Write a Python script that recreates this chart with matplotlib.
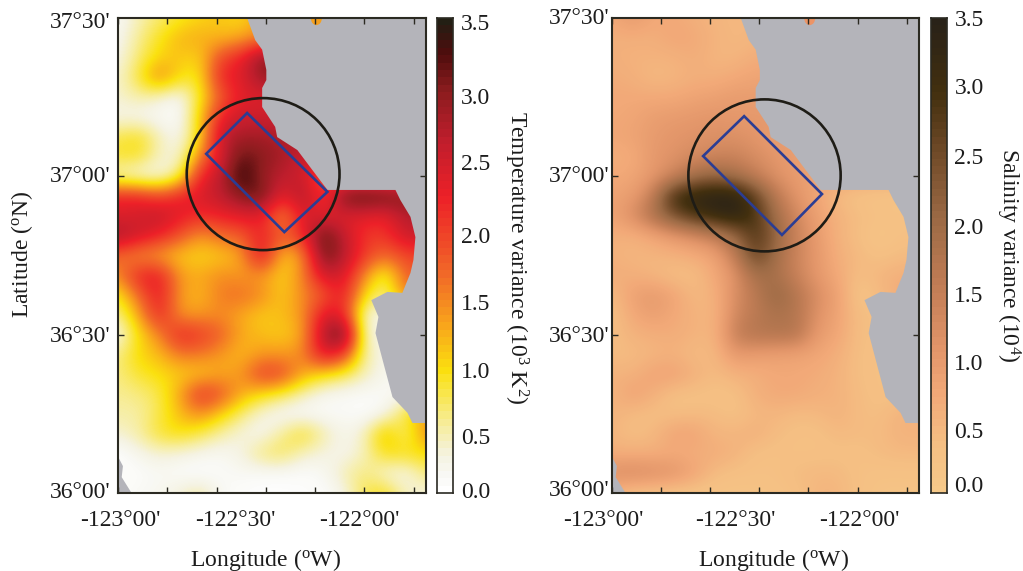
import numpy as np
import matplotlib.pyplot as plt
from matplotlib.colors import LinearSegmentedColormap
from matplotlib.patches import Ellipse, Polygon

plt.rcParams['font.family'] = ['Liberation Serif', 'DejaVu Serif']
plt.rcParams['mathtext.fontset'] = 'custom'
plt.rcParams['mathtext.rm'] = 'Liberation Serif'
plt.rcParams['mathtext.default'] = 'rm'

W, H = 1023, 571

# grid of the two fields, north to south, west to east
lat_grid = np.linspace(37.5, 36.0, 25)
lon_grid = np.linspace(-123.0, -121.75, 16)

temp_var = [
    [.10, .40, .60, .80, .95, 1.05, .90, 1.3, 1.3, 1.3, 1.3, 1.3, 1.3, 1.3, 1.3, 1.3],
    [.15, .50, .85, 1.15, 1.2, 1.1, 1.2, 1.4, 1.4, 1.4, 1.4, 1.4, 1.4, 1.4, 1.4, 1.4],
    [.20, .60, .95, 1.05, .95, 1.9, 2.2, 3.0, 3.0, 3.0, 3.0, 3.0, 3.0, 3.0, 3.0, 3.0],
    [.30, .75, 1.5, .90, .80, 2.2, 2.3, 2.9, 2.9, 2.9, 2.9, 2.9, 2.9, 2.9, 2.9, 2.9],
    [.30, .45, .30, .10, .80, 1.7, 2.3, 2.3, 2.3, 2.3, 2.3, 2.3, 2.3, 2.3, 2.3, 2.3],
    [.20, .15, .10, .05, 1.0, 2.2, 2.5, 2.5, 2.5, 2.5, 2.5, 2.5, 2.5, 2.5, 2.5, 2.5],
    [.70, .90, .40, .15, .90, 2.6, 2.8, 2.8, 2.7, 2.7, 2.7, 2.7, 2.7, 2.7, 2.7, 2.7],
    [.80, .85, .35, .25, 1.4, 2.4, 3.2, 3.0, 2.8, 2.5, 2.5, 2.5, 2.5, 2.5, 2.5, 2.5],
    [.30, .15, .15, .60, 2.2, 2.6, 3.5, 2.9, 2.6, 2.5, 1.7, 1.7, 1.7, 1.7, 1.7, 1.7],
    [2.2, 2.2, 1.9, 2.2, 2.4, 2.6, 3.0, 3.2, 2.2, 2.8, 1.9, 3.2, 3.3, 3.2, 3.0, 3.0],
    [2.3, 2.4, 2.6, 2.3, 2.1, 2.2, 2.3, 2.3, 1.3, 2.4, 2.3, 2.3, 2.3, 2.2, 2.7, 2.7],
    [2.8, 2.5, 2.2, 1.8, 1.3, 1.6, 1.7, 2.2, 1.7, 2.1, 3.3, 2.6, 2.0, 2.0, 2.5, 2.5],
    [1.6, 1.3, 1.2, 1.0, .95, 1.0, 1.2, 2.5, 1.0, 1.3, 3.2, 2.7, 2.0, 1.6, 1.9, 1.9],
    [1.4, 2.2, 2.3, 1.3, 1.2, 1.4, 1.3, 1.3, .95, 1.4, 2.5, 2.4, 1.4, .60, 1.7, 1.7],
    [.80, 1.6, 2.3, 1.3, 1.1, 1.5, 1.6, 1.4, 1.0, 1.4, 1.7, 2.3, .90, .50, 1.5, 1.5],
    [.50, 1.2, 2.2, 1.3, 1.3, 1.4, 1.2, 1.0, 1.1, 1.3, 2.4, 2.2, .25, .20, .20, .20],
    [.15, .90, 1.4, 2.2, 2.0, 1.7, 1.2, 1.1, 1.0, 1.2, 2.7, 3.4, .30, .20, .20, .20],
    [.55, .95, 1.1, 1.5, 1.5, 1.3, 1.1, 1.3, 1.3, 1.4, 2.4, 2.0, .45, .20, .20, .20],
    [.55, .80, .90, 1.0, 1.0, 1.2, 1.3, 2.0, 1.9, 1.2, .90, .70, .40, .15, .15, .15],
    [.50, .55, .70, 1.2, 2.1, 1.8, 1.2, .90, .70, .40, .15, .10, .08, .10, .10, .10],
    [.45, .45, .70, 1.1, 1.4, 1.0, .60, .25, .08, .05, .08, .10, .05, .15, .80, 1.3],
    [.30, .45, .80, .90, .70, .45, .25, .15, .50, .90, .45, .18, .35, 1.2, .50, 1.4],
    [.02, .18, .30, .25, .18, .12, .25, .60, .70, .35, .25, .18, .35, .90, .90, .90],
    [.05, .05, .12, .05, .02, .08, .12, .08, .08, .05, .12, .40, .60, .25, .15, .60],
    [.05, .12, .15, .30, .50, .12, .05, .02, .02, .05, .05, .20, .70, .90, .35, .25],
]

sal_var = [
    [.70, 1.0, .70, .70, .60, .50, .45, .50, .50, .50, .50, .50, .50, .50, .50, .50],
    [.60, .60, .60, .75, .70, .55, .45, .50, .50, .50, .50, .50, .50, .50, .50, .50],
    [.60, .55, .55, .55, .65, .50, .50, .65, .65, .65, .65, .65, .65, .65, .65, .65],
    [.65, .60, .45, .50, .60, .60, .70, .80, .80, .80, .80, .80, .80, .80, .80, .80],
    [.70, .70, .70, .70, .80, .85, .95, .90, .90, .90, .90, .90, .90, .90, .90, .90],
    [.70, .75, .90, .95, 1.0, 1.05, 1.0, 1.0, 1.0, 1.0, 1.0, 1.0, 1.0, 1.0, 1.0, 1.0],
    [.75, .80, .95, 1.05, 1.1, 1.15, 1.15, 1.05, .90, .90, .90, .90, .90, .90, .90, .90],
    [.60, .65, 1.0, 1.1, 1.25, 1.35, 1.4, 1.2, 1.05, .90, .80, .80, .80, .80, .80, .80],
    [.70, .75, 1.0, 1.35, 1.9, 2.1, 1.9, 1.5, 1.1, .95, .80, .80, .80, .80, .80, .80],
    [.80, .90, 1.5, 3.1, 3.4, 3.5, 3.5, 2.7, 1.6, 1.05, .75, .40, .25, .20, .20, .20],
    [.80, 1.2, 1.8, 2.4, 2.9, 3.2, 3.4, 2.9, 1.9, 1.3, .85, .55, .40, .30, .25, .25],
    [.60, .55, .75, 1.0, 1.2, 1.5, 2.0, 2.9, 2.1, 1.4, .95, .55, .35, .15, .30, .30],
    [.55, .50, .50, .55, .65, .80, 1.5, 2.7, 1.9, 1.35, 1.0, .60, .45, .30, .40, .40],
    [.65, .60, .50, .35, .35, .70, 1.1, 1.9, 1.85, 1.4, 1.0, .70, .35, .50, .60, .60],
    [.40, .85, 1.0, .80, .45, .55, 1.2, 1.6, 2.1, 1.7, 1.2, .85, .20, .40, .70, .70],
    [.30, .70, .90, .70, .55, .50, 1.3, 1.6, 1.8, 1.7, 1.1, .80, .35, .35, .35, .35],
    [.35, .55, .60, .65, .55, .50, 1.5, 1.7, 1.7, 1.7, .95, .75, .35, .35, .35, .35],
    [.40, .40, .50, .55, .40, .45, 1.0, .90, .85, .80, .75, .60, .35, .30, .30, .30],
    [.55, .55, .80, .85, .60, .40, .55, .60, .70, .70, .65, .55, .35, .30, .30, .30],
    [.50, .85, .60, .30, .30, .30, .30, .60, .70, .70, .60, .55, .40, .30, .30, .30],
    [.55, .40, .35, .35, .40, .40, .30, .45, .50, .40, .45, .55, .40, .35, .55, .55],
    [.50, .35, .45, .80, .80, .50, .50, .60, .40, .30, .30, .45, .40, .40, .55, .55],
    [.60, .60, .60, .65, .60, .65, .55, .30, .30, .30, .30, .30, .30, .40, .45, .45],
    [1.2, 1.3, 1.2, 1.1, .80, .40, .30, .30, .30, .40, .45, .45, .30, .25, .25, .25],
    [.50, .25, .25, .20, .20, .20, .20, .20, .25, .30, .50, .50, .30, .20, .20, .20],
]

# coastline, lon and lat
coast_lon = [-122.476, -122.443, -122.415, -122.398, -122.398, -122.415, -122.415,
             -122.362, -122.354, -122.272, -122.22, -122.15, -121.874, -121.854,
             -121.813, -121.793, -121.801, -121.813, -121.846, -121.907, -121.972,
             -121.943, -121.955, -121.923, -121.886, -121.825, -121.805, -121.75,
             -121.75]
coast_lat = [37.5, 37.43, 37.40, 37.336, 37.304, 37.279, 37.219, 37.156, 37.124,
             37.083, 37.029, 36.957, 36.957, 36.925, 36.872, 36.808, 36.736, 36.695,
             36.632, 36.635, 36.609, 36.556, 36.505, 36.411, 36.303, 36.253, 36.221,
             36.221, 37.5]
corner_lon = [-123.0, -122.98, -122.985, -122.945, -123.0]
corner_lat = [36.115, 36.085, 36.05, 36.0, 36.0]

# study area
circle_left = (-122.411, 37.007)
circle_right = (-122.379, 37.003)
box_left_lon = [-122.476, -122.150, -122.325, -122.642]
box_left_lat = [37.2, 36.951, 36.824, 37.071]
box_right_lon = [-122.462, -122.145, -122.308, -122.629]
box_right_lat = [37.19, 36.944, 36.815, 37.064]

# little spot of sea on the top edge
spot_lon = -122.195
spot_lat = 37.5

lon_ticks = [-123.0, -122.8, -122.6, -122.4, -122.2, -122.0, -121.8]
lat_ticks = [36.5, 37.0]
lat_labels = ["36°00'", "36°30'", "37°00'", "37°30'"]
lon_labels = ["-123°00'", "-122°30'", "-122°00'"]
cbar_labels = ['0.0', '0.5', '1.0', '1.5', '2.0', '2.5', '3.0', '3.5']

temp_cmap = LinearSegmentedColormap.from_list('temp', [
    (0.0, '#ffffff'), (0.03, '#f9f9f5'), (0.07, '#f5f3e2'), (0.13, '#f7eea4'), (0.253, '#fbe10f'),
    (0.35, '#f9a61c'), (0.456, '#f26a28'), (0.625, '#ed2128'), (0.75, '#be1e2d'),
    (0.856, '#8a1c1e'), (0.933, '#4f0d0d'), (1.0, '#231f14')])
sal_cmap = LinearSegmentedColormap.from_list('sal', [
    (0.0, '#f6c989'), (0.10, '#f5bf83'), (0.20, '#f2a978'), (0.30, '#e3966a'), (0.42, '#c47f57'),
    (0.58, '#9c6a45'), (0.72, '#704a28'), (0.85, '#43300f'), (1.0, '#292218')])

LAND = '#b4b4ba'
INK = '#2b2a22'
BLUE = '#2b3d94'


def px_axes(fig, x0, x1, y0, y1):
    return fig.add_axes([x0 / W, 1 - y1 / H, (x1 - x0) / W, (y1 - y0) / H])


def draw_map(ax, field, cmap, circle, box_lon, box_lat, spot_color):
    dx = (lon_grid[1] - lon_grid[0]) / 2
    dy = (lat_grid[0] - lat_grid[1]) / 2
    ax.imshow(field, cmap=cmap, vmin=0, vmax=3.5, aspect='auto', interpolation='bicubic',
              interpolation_stage='data',
              extent=[lon_grid[0] - dx, lon_grid[-1] + dx, lat_grid[-1] - dy, lat_grid[0] + dy])
    ax.add_patch(Polygon(np.column_stack([coast_lon, coast_lat]), fc=LAND, ec='none'))
    ax.add_patch(Polygon(np.column_stack([corner_lon, corner_lat]), fc=LAND, ec='none'))
    ax.add_patch(Ellipse((spot_lon, spot_lat), 0.045, 0.045, fc=spot_color, ec='none'))
    ax.add_patch(Ellipse(circle, 0.62, 0.48, fc='none', ec='#1e1c16', lw=1.9))
    ax.add_patch(Polygon(np.column_stack([box_lon, box_lat]), closed=True, fc='none', ec=BLUE, lw=1.9))
    ax.set_xlim(-123.0, -121.75)
    ax.set_ylim(36.0, 37.5)
    ax.set_xticks(lon_ticks)
    ax.set_yticks(lat_ticks)
    ax.tick_params(direction='in', length=4, width=1, top=True, right=True, color=INK,
                   labelbottom=False, labelleft=False)
    for s in ax.spines.values():
        s.set_linewidth(1.5)
        s.set_color(INK)


def draw_cbar(ax, cmap):
    ax.imshow(np.linspace(1, 0, 64)[:, None], cmap=cmap, vmin=0, vmax=1, aspect='auto',
              interpolation='nearest', extent=[0, 1, 0, 1])
    ax.set_xticks([])
    ax.set_yticks([])
    for s in ax.spines.values():
        s.set_linewidth(1.2)
        s.set_color(INK)


def put(fig, x, y, s, **kw):
    kw.setdefault('fontsize', 17)
    kw.setdefault('color', '#1c1c1c')
    fig.text(x / W, 1 - y / H, s, ha='center', va='center', **kw)


fig = plt.figure(figsize=(W / 100, H / 100), dpi=100)

ax1 = px_axes(fig, 118, 426, 18, 493)
draw_map(ax1, temp_var, temp_cmap, circle_left, box_left_lon, box_left_lat, '#f5a01e')
ax2 = px_axes(fig, 612, 919, 18, 493)
draw_map(ax2, sal_var, sal_cmap, circle_right, box_right_lon, box_right_lat, '#ec9466')

draw_cbar(px_axes(fig, 437, 453, 18, 493), temp_cmap)
draw_cbar(px_axes(fig, 931, 947, 18, 493), sal_cmap)

for s, y in zip(lat_labels, [493, 337, 177, 22]):
    put(fig, 80, y, s)
for s, y in zip(lat_labels, [490, 336, 177, 18]):
    put(fig, 579, y, s)
for s, x in zip(lon_labels, [120, 235, 359]):
    put(fig, x, 520, s)
for s, x in zip(lon_labels, [603, 735, 859]):
    put(fig, x, 520, s)

for s, y in zip(cbar_labels, [492, 438, 372, 305, 237, 165, 98, 24]):
    put(fig, 476, y, s)
for s, y in zip(cbar_labels, [487, 433, 364, 297, 229, 159, 89, 20]):
    put(fig, 969, y, s)

put(fig, 266, 560, 'Longitude ($^{o}$W)')
put(fig, 774, 560, 'Longitude ($^{o}$W)')
put(fig, 22, 254, 'Latitude ($^{o}$N)', rotation=90)
put(fig, 516, 258, 'Temperature variance (10$^{3}$ K$^{2}$)', rotation=270)
put(fig, 1008, 255, 'Salinity variance (10$^{4}$)', rotation=270)

fig.savefig('out.png', dpi=100)
